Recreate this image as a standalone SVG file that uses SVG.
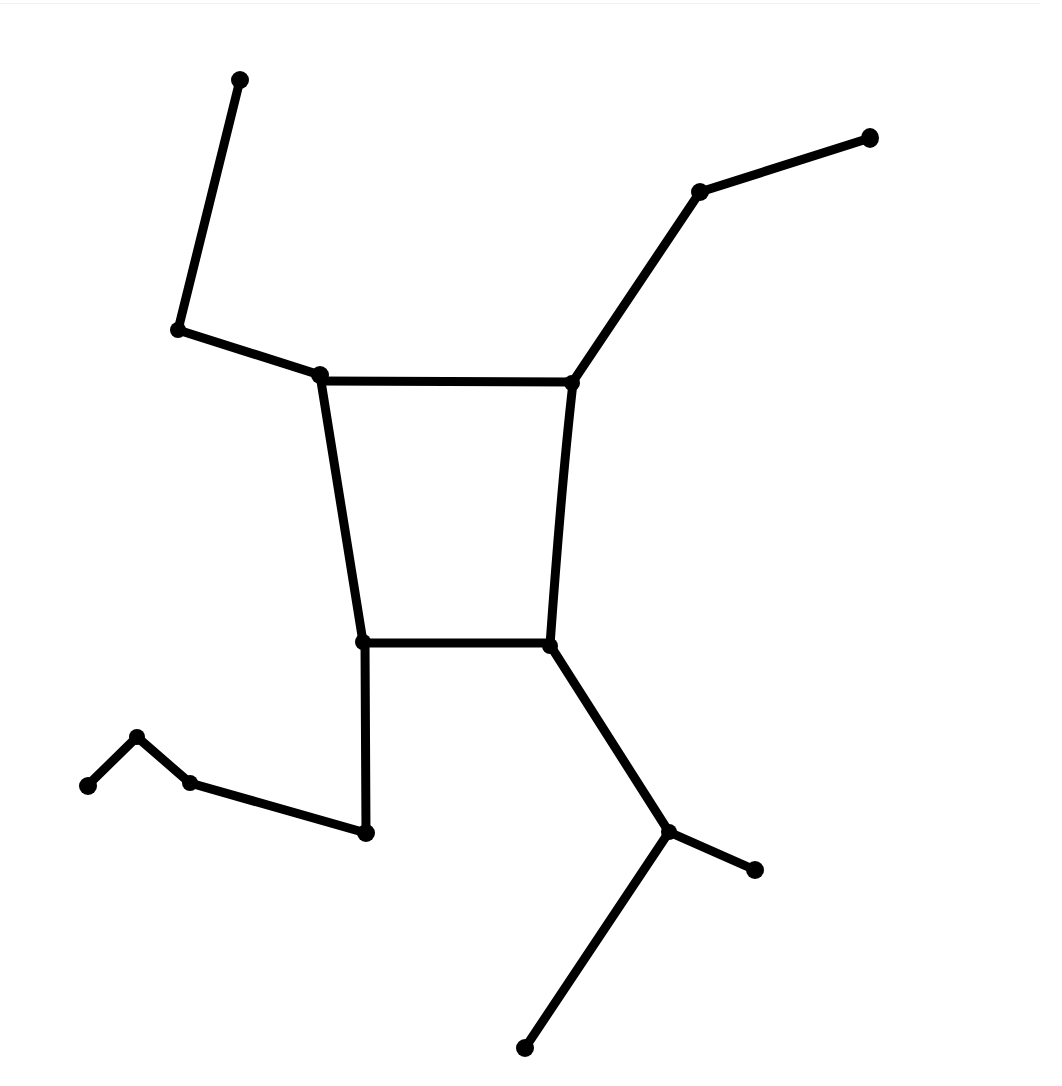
<svg xmlns="http://www.w3.org/2000/svg" width="1062" height="1086" viewBox="0 0 1062 1086">
<style>
.e{stroke:#000;stroke-width:9;fill:none;stroke-linecap:round;stroke-linejoin:round}
.n{fill:#000}
</style>
<rect width="1062" height="1086" fill="#fff"/>
<line x1="0" y1="3.5" x2="1040" y2="3.5" stroke="#f0f0f0" stroke-width="1"/>
<g id="connectors">
<line class="e" x1="240" y1="80" x2="178" y2="330"/>
<line class="e" x1="178" y1="330" x2="320" y2="375"/>
<line class="e" x1="322" y1="381" x2="572" y2="382"/>
<line class="e" x1="572" y1="383" x2="700" y2="192"/>
<line class="e" x1="700" y1="192" x2="870" y2="138"/>
<line class="e" x1="320" y1="375" x2="363" y2="642"/>
<path class="e" d="M573 383 Q 562 478 550 645"/>
<line class="e" x1="363" y1="643" x2="550" y2="643"/>
<line class="e" x1="365" y1="642" x2="366" y2="833"/>
<line class="e" x1="366" y1="833" x2="190" y2="783"/>
<line class="e" x1="190" y1="783" x2="137" y2="737"/>
<line class="e" x1="137" y1="737" x2="88" y2="785"/>
<line class="e" x1="550" y1="645" x2="669" y2="832"/>
<line class="e" x1="669" y1="832" x2="755" y2="870"/>
<line class="e" x1="669" y1="832" x2="525" y2="1048"/>
</g>
<g id="nA"><ellipse class="n" cx="240" cy="80" rx="9" ry="9"/></g>
<g id="nB"><ellipse class="n" cx="178" cy="330" rx="8" ry="8"/></g>
<g id="nC"><ellipse class="n" cx="320" cy="375" rx="9" ry="9"/></g>
<g id="nD"><ellipse class="n" cx="572" cy="383" rx="8" ry="8"/></g>
<g id="nE"><ellipse class="n" cx="700" cy="192" rx="9" ry="9"/></g>
<g id="nF"><ellipse class="n" cx="870" cy="138" rx="9" ry="10"/></g>
<g id="nG"><ellipse class="n" cx="363" cy="642" rx="8" ry="8"/></g>
<g id="nH"><ellipse class="n" cx="550" cy="646" rx="8" ry="8"/></g>
<g id="nI"><ellipse class="n" cx="366" cy="833" rx="9" ry="9"/></g>
<g id="nJ"><ellipse class="n" cx="190" cy="783" rx="8" ry="8"/></g>
<g id="nK"><ellipse class="n" cx="137" cy="737" rx="8" ry="8"/></g>
<g id="nL"><ellipse class="n" cx="88" cy="786" rx="9" ry="9"/></g>
<g id="nM"><ellipse class="n" cx="669" cy="832" rx="8" ry="8"/></g>
<g id="nN"><ellipse class="n" cx="755" cy="870" rx="9" ry="9"/></g>
<g id="nO"><ellipse class="n" cx="525" cy="1048" rx="9" ry="9"/></g>
</svg>
